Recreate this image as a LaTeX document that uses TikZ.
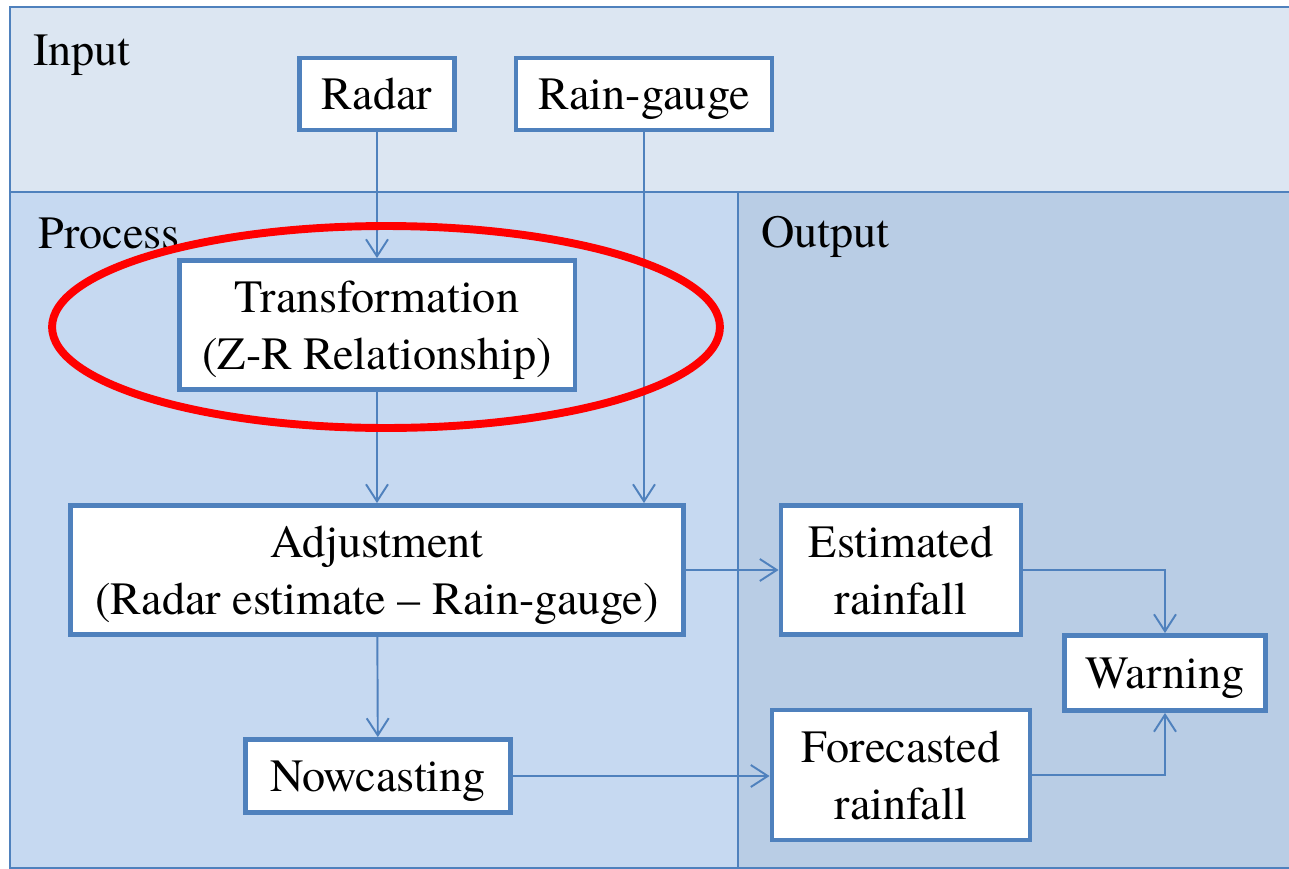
\documentclass[tikz,border=0pt]{standalone}
\usepackage{fontspec}
\setmainfont{texgyretermes}[Extension=.otf,UprightFont=*-regular,BoldFont=*-bold,ItalicFont=*-italic,BoldItalicFont=*-bolditalic]
\usetikzlibrary{arrows.meta}
\definecolor{frameblue}{HTML}{4F81BD}
\definecolor{inputfill}{HTML}{DCE6F2}
\definecolor{processfill}{HTML}{C6D9F1}
\definecolor{outputfill}{HTML}{B9CDE5}
\begin{document}
\begin{tikzpicture}
  [x=0.02cm,y=-0.02cm,
   every node/.style={font=\fontsize{26.3}{32.4}\selectfont},
   stepbox/.style={draw=frameblue,line width=2.8pt,fill=white,inner sep=0pt,align=center,text depth=0pt},
   panel/.style={draw=frameblue,line width=1.1pt},
   link/.style={draw=frameblue,line width=1.1pt,-{Straight Barb[length=3.4mm,width=4.4mm]}}]
  \clip (0,0) rectangle (1289,869);

  % panels
  \fill[white] (0,0) rectangle (1289,869);
  \draw[panel,fill=inputfill] (10,7) rectangle (1300,192);
  \draw[panel,fill=processfill] (10,192) rectangle (738,868);
  \draw[panel,fill=outputfill] (738,192) rectangle (1300,868);
  \node[anchor=base west,inner sep=0pt] (lin) at (33,65) {Input};
  \node[anchor=base west,inner sep=0pt] (lpro) at (38,248) {Process};
  \node[anchor=base west,inner sep=0pt] (lout) at (761,247) {Output};

  % boxes
  \node[stepbox,minimum width=3.1cm,minimum height=1.44cm] (radar) at (377,94) {Radar};
  \node[stepbox,minimum width=5.12cm,minimum height=1.44cm] (rg) at (644,94) {Rain-gauge};
  \node[stepbox,minimum width=7.92cm,minimum height=2.58cm] (trans) at (377,325) {Transformation\\(Z-R Relationship)};
  \node[stepbox,minimum width=12.26cm,minimum height=2.58cm] (adj) at (377,570) {Adjustment\\(Radar estimate -- Rain-gauge)};
  \node[stepbox,minimum width=5.3cm,minimum height=1.46cm] (now) at (378,776) {Nowcasting};
  \node[stepbox,minimum width=4.8cm,minimum height=2.58cm] (est) at (901,570) {Estimated\\rainfall};
  \node[stepbox,minimum width=5.16cm,minimum height=2.6cm] (fore) at (901,775) {Forecasted\\rainfall};
  \node[stepbox,minimum width=4.02cm,minimum height=1.5cm] (warn) at (1165,673) {Warning};

  % connectors
  \draw[link] (radar) -- (trans);
  \draw[link] (rg.south) -- (rg.south |- adj.north);
  \draw[link] (trans) -- (adj);
  \draw[link] (adj) -- (now);
  \draw[link] (adj.east) -- (est.west);
  \draw[link] (now.east) -- (now.east -| fore.west);
  \draw[link] (est.east) -| (warn.north);
  \draw[link] (fore.east) -| (warn.south);

  % highlight
  \draw[red,line width=4.5pt] (386,327) ellipse [x radius=6.68cm,y radius=2.02cm];
\end{tikzpicture}
\end{document}
